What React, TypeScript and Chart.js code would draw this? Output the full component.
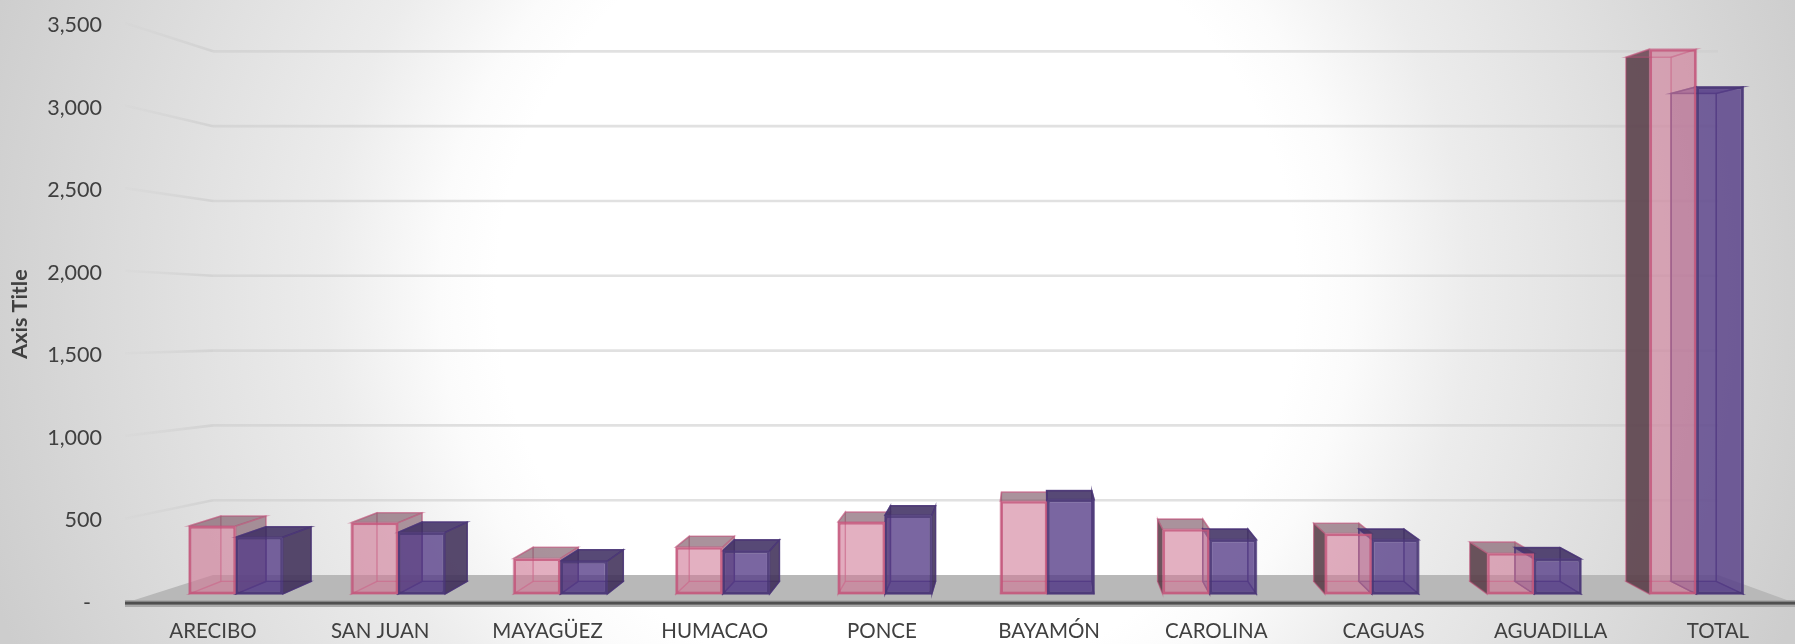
import React, { useEffect, useRef } from "react";
import { Chart, registerables } from "chart.js";

Chart.register(...registerables);

const categories = ["ARECIBO", "SAN JUAN", "MAYAGÜEZ", "HUMACAO", "PONCE", "BAYAMÓN", "CAROLINA", "CAGUAS", "AGUADILLA", "TOTAL"];
const seriesA = [425, 446, 222, 293, 450, 580, 405, 378, 255, 3405];
const seriesB = [355, 385, 206, 270, 492, 590, 340, 340, 220, 3170];

const FONT = "Lato, Carlito, sans-serif";
const TEXT = "#404040";
const VP = { x: 1030, y: 262 };
const DEPTH = 0.038;

const wash = {
  id: "wash",
  beforeDraw(chart: any) {
    const { ctx, width, height } = chart;
    const g = ctx.createRadialGradient(897, 290, 0, 897, 290, 953);
    g.addColorStop(0, "#ffffff");
    g.addColorStop(0.42, "#ffffff");
    g.addColorStop(0.48, "#fbfbfb");
    g.addColorStop(0.6, "#ececec");
    g.addColorStop(1, "#cdcdcd");
    ctx.save();
    ctx.fillStyle = g;
    ctx.fillRect(0, 0, width, height);
    ctx.restore();
  },
};

function poly(ctx: any, pts: number[][], fill: string, stroke: string, lw = 1.4) {
  ctx.beginPath();
  pts.forEach((p, i) => (i ? ctx.lineTo(p[0], p[1]) : ctx.moveTo(p[0], p[1])));
  ctx.closePath();
  ctx.fillStyle = fill;
  ctx.fill();
  ctx.lineWidth = lw;
  ctx.strokeStyle = stroke;
  ctx.stroke();
}

const room = {
  id: "room",
  beforeDatasetsDraw(chart: any) {
    const { ctx, chartArea, scales } = chart;
    const { left, right } = chartArea;
    const y = scales.y;
    const wall = scales.y2;
    ctx.save();
    // back-wall grid lines
    y.ticks.forEach((t: any) => {
      if (t.value === 0) return;
      const yy = wall.getPixelForValue(t.value);
      const side = ctx.createLinearGradient(125, 0, left, 0);
      side.addColorStop(0, "rgba(205,205,205,0.12)");
      side.addColorStop(1, "rgba(205,205,205,0.7)");
      ctx.lineWidth = 2.6;
      ctx.strokeStyle = side;
      ctx.beginPath();
      ctx.moveTo(125, y.getPixelForValue(t.value) - 2);
      ctx.lineTo(left, yy);
      ctx.stroke();
      ctx.strokeStyle = "rgba(205,205,205,0.6)";
      ctx.beginPath();
      ctx.moveTo(left, yy);
      ctx.lineTo(right, yy);
      ctx.stroke();
    });
    // floor
    const fy = y.getPixelForValue(0);
    const by = wall.getPixelForValue(0);
    ctx.beginPath();
    ctx.moveTo(125, fy);
    ctx.lineTo(left, by);
    ctx.lineTo(right, by);
    ctx.lineTo(chart.width, fy);
    ctx.closePath();
    ctx.fillStyle = "#b8b8b8";
    ctx.fill();
    ctx.fillStyle = "#a9a9a9";
    ctx.fillRect(125, fy - 3, chart.width - 125, 7);
    ctx.fillStyle = "#4f4f4f";
    ctx.fillRect(125, fy - 1.4, chart.width - 125, 3);

    // depth faces of each box
    const palettes = [
      { edge: "rgba(196,84,124,0.45)", top: "rgba(128,92,106,0.66)", topUnder: "rgba(205,120,150,0.18)", dark: "rgba(88,62,72,0.88)", near: "rgba(128,92,106,0.62)", light: "rgba(205,120,150,0.12)", floor: "rgba(205,120,150,0.18)" },
      { edge: "rgba(74,52,120,0.7)", top: "rgba(66,50,100,0.88)", topUnder: "rgba(85,60,135,0.55)", dark: "rgba(66,50,90,0.88)", near: "rgba(90,70,130,0.28)", light: "rgba(90,70,130,0.2)", floor: "rgba(85,60,135,0.45)" },
    ];
    [0, 1].forEach((d) => {
      const meta = chart.getDatasetMeta(d);
      const c = palettes[d];
      meta.data.forEach((el: any) => {
        const { x, y: top, base, width } = el.getProps(["x", "y", "base", "width"], true);
        const l = x - width / 2;
        const r = x + width / 2;
        const bk = (px: number, py: number) => [px + (VP.x - px) * DEPTH, py + (VP.y - py) * DEPTH];
        const ftl = [l, top], ftr = [r, top], fbl = [l, base], fbr = [r, base];
        const btl = bk(l, top), btr = bk(r, top), bbl = bk(l, base), bbr = bk(r, base);
        const centre = (l + r) / 2;
        const isRightOfVP = centre > VP.x;
        const leftFill = d === 0 ? (isRightOfVP ? c.dark : c.light) : (isRightOfVP ? c.near : c.light);
        const rightFill = d === 1 ? (isRightOfVP ? c.light : c.dark) : (isRightOfVP ? c.light : c.near);
        poly(ctx, [btl, btr, bbr, bbl], d ? "rgba(85,60,135,0.1)" : "rgba(205,120,150,0.04)", c.edge, 1.2);
        poly(ctx, [fbl, fbr, bbr, bbl], c.floor, c.edge, 1.2);
        poly(ctx, [ftl, btl, bbl, fbl], leftFill, c.edge, 1.4);
        poly(ctx, [ftr, btr, bbr, fbr], rightFill, c.edge, 1.4);
        poly(ctx, [ftl, ftr, btr, btl], top > VP.y ? c.top : c.topUnder, c.edge, 1.6);
      });
    });
    ctx.restore();
  },
};

export default function App() {
  const ref = useRef<HTMLCanvasElement>(null);
  useEffect(() => {
    const chart = new Chart(ref.current!, {
      type: "bar",
      data: {
        labels: categories,
        datasets: [
          {
            label: "A",
            data: seriesA.map((v, i) => ({ x: i, y: v })),
            xAxisID: "x1",
            yAxisID: "y1",
            backgroundColor: "rgba(208,122,152,0.58)",
            borderColor: "rgba(196,88,124,0.9)",
            borderWidth: 2.6,
            borderSkipped: false,
            clip: false,
          },
          {
            label: "B",
            data: seriesB.map((v, i) => ({ x: i, y: v })),
            xAxisID: "x1",
            yAxisID: "y1",
            backgroundColor: "rgba(85,60,135,0.76)",
            borderColor: "rgba(74,54,118,0.92)",
            borderWidth: 2.6,
            borderSkipped: false,
            clip: false,
          },
        ] as any,
      },
      options: {
        responsive: false,
        animation: false,
        devicePixelRatio: 1,
        layout: { padding: { top: 25, right: 77, left: 0, bottom: 0 } },
        datasets: { bar: { categoryPercentage: 0.578, barPercentage: 1 } },
        plugins: { legend: { display: false }, tooltip: { enabled: false }, title: { display: false } },
        scales: {
          x: {
            type: "category",
            offset: false,
            grid: { display: false, drawTicks: false },
            border: { display: false },
            ticks: { autoSkip: false, maxRotation: 0, minRotation: 0, color: TEXT, font: { family: FONT, size: 20.5 }, padding: 16 },
            afterFit(s: any) { s.height = 41; },
          },
          x1: { type: "linear", display: false, offset: false, min: -0.1405, max: 9.133 },
          y: {
            type: "linear",
            position: "left",
            min: 0,
            max: 3500,
            grid: { display: false, drawTicks: false },
            border: { display: false },
            ticks: {
              stepSize: 500,
              color: TEXT,
              padding: 111,
              font: { family: FONT, size: 21.5 },
              callback: (v: any) => (v === 0 ? "-  " : Number(v).toLocaleString("en-US")),
            },
            title: { display: true, text: "Axis Title", color: TEXT, font: { family: FONT, size: 21.5, weight: "bold" }, padding: { top: 7, bottom: 0 } },
            afterFit(s: any) { s.width = 213; s.paddingTop = 0; s.paddingBottom = 0; },
          },
          y1: { type: "linear", display: false, min: -56, max: 3556 },
          y2: { type: "linear", display: false, min: -187, max: 3676 },
        },
      } as any,
      plugins: [wash, room],
    });
    return () => chart.destroy();
  }, []);
  return (
    <div style={{ position: "absolute", left: 0, top: 0, width: 1795, height: 644, overflow: "hidden" }}>
      <canvas ref={ref} width={1795} height={644} style={{ display: "block", width: 1795, height: 644, filter: "blur(0.6px)" }} />
    </div>
  );
}
